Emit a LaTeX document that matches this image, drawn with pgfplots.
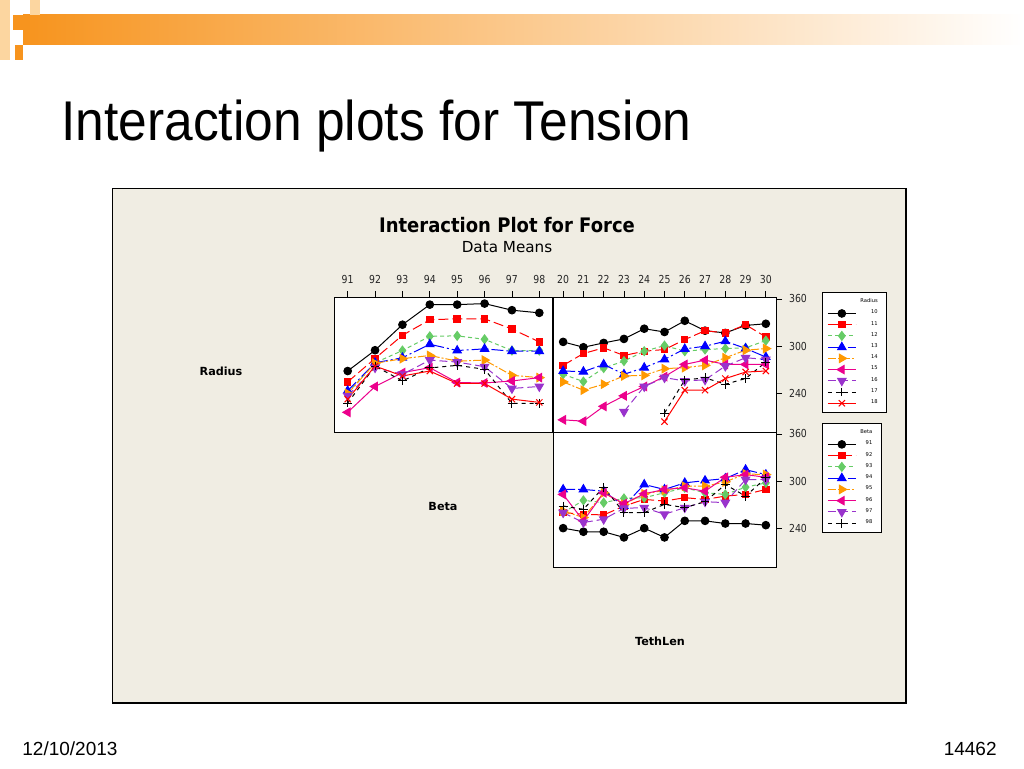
\documentclass[border=0pt]{standalone}
\usepackage{pgfplots}
\pgfplotsset{compat=1.18}
\usepackage{pgfplotstable}
\usepackage{fontspec}
\setmainfont{Liberation Sans}
\newfontfamily\chartfont{DejaVu Sans}
\newfontfamily\tickfont[FakeStretch=0.85]{DejaVu Sans}

\definecolor{mgreen}{RGB}{102,204,102}
\definecolor{morange}{RGB}{255,153,0}
\definecolor{mpurple}{RGB}{153,51,204}
\definecolor{mblue}{RGB}{0,0,255}
\definecolor{chartbg}{RGB}{240,237,227}
\definecolor{slideor}{RGB}{247,148,30}
\definecolor{slidepale}{RGB}{252,214,160}

\pgfplotsset{
  sA/.style={black, solid, mark=*, mark size=1.9pt},
  sB/.style={red, dash pattern=on 5pt off 2pt, mark=square*, mark size=1.6pt, mark options={solid}},
  sC/.style={mgreen, dash pattern=on 2pt off 1.5pt, mark=diamond*, mark size=2.2pt, mark options={solid}},
  sD/.style={mblue, dash pattern=on 6pt off 1.5pt on 1pt off 1.5pt, mark=triangle*, mark size=2.4pt, mark options={solid}},
  sE/.style={morange, dash pattern=on 4pt off 1pt on 1pt off 1pt, mark=triangle*, mark size=2.4pt, mark options={solid,rotate=-90}},
  sF/.style={magenta, solid, mark=triangle*, mark size=2.4pt, mark options={rotate=90}},
  sG/.style={mpurple, dash pattern=on 4pt off 2pt, mark=triangle*, mark size=2.4pt, mark options={solid,rotate=180}},
  sH/.style={black, dash pattern=on 2pt off 2pt, mark=+, mark size=2.2pt, mark options={solid}},
  sI/.style={red, solid, mark=x, mark size=2.2pt},
  panel/.style={
    scale only axis, height=67.5pt,
    ymin=190.5, ymax=362.5,
    axis background/.style={fill=white},
    tick align=outside, major tick length=3pt,
    tick style={black, line width=0.4pt},
    axis line style={line width=0.5pt},
    tick label style={font=\tickfont\fontsize{5.5}{6}\selectfont, text=black!85},
    /pgf/number format/assume math mode=true,
    unbounded coords=jump,
    every axis plot post/.append style={line width=0.5pt},
  },
  myleg/.style={
    legend image code/.code={\draw[mark repeat=2,mark phase=2,##1] plot coordinates {(0pt,0pt) (7pt,0pt) (14pt,0pt)};},
    legend cell align=right,
  },
  legbox/.style={anchor=north west, draw=black, fill=white,
    line width=0.4pt, inner xsep=2.5pt, inner ysep=1pt, row sep=-1.8pt,
    font=\chartfont\fontsize{2.6}{3}\selectfont,
    /tikz/every even column/.append style={column sep=3pt}},
}

% Radius x Beta
\pgfplotstableread{
x  r10   r11   r12   r13   r14   r15   r16   r17   r18
91 268.2 254.3 240.0 243.0 239.6 215.6 236.6 227.4 232.4
92 294.7 284.2 278.7 278.7 278.0 248.5 272.5 274.5 274.5
93 327.2 313.7 294.3 285.1 283.9 266.1 264.0 255.5 261.9
94 352.8 333.5 312.4 302.3 288.0 272.5 282.1 272.1 268.2
95 352.8 334.7 313.0 294.3 280.8 253.5 279.6 275.4 252.3
96 354.1 334.7 308.6 296.4 282.1 253.0 273.7 270.4 252.3
97 345.7 321.7 294.3 293.4 262.7 255.5 246.0 227.0 232.4
98 342.3 305.3 294.3 293.4 259.8 259.8 248.5 227.0 228.2
}\radbeta

% Radius x TethLen
\pgfplotstableread{
x  r10   r11   r12   r13   r14   r15   r16   r17   r18
20 305.3 275.4 264.0 268.2 254.3 206.0 nan   nan   nan
21 298.5 290.5 254.8 267.4 243.8 204.3 nan   nan   nan
22 304.0 297.7 272.0 276.6 251.4 223.2 nan   nan   nan
23 309.1 288.0 280.8 264.0 261.9 236.6 216.4 nan   nan
24 322.1 293.4 293.4 272.5 262.7 248.5 248.5 nan   nan
25 317.9 295.6 300.6 283.0 271.2 261.1 259.8 214.7 203.8
26 332.2 308.2 293.4 296.4 272.5 276.6 255.5 256.8 243.8
27 319.6 319.6 295.6 299.8 275.4 282.1 257.0 259.5 243.8
28 316.7 316.7 296.8 306.1 285.1 276.6 274.5 251.4 258.6
29 326.3 327.2 297.7 297.0 294.7 276.6 285.1 258.6 266.9
30 328.4 311.6 307.0 286.0 296.8 276.6 283.0 279.6 268.2
}\radteth

% Beta x TethLen
\pgfplotstableread{
x  b91   b92   b93   b94   b95   b96   b97   b98
20 240.0 259.8 259.8 289.3 261.9 283.0 259.8 268.2
21 235.4 257.7 275.4 289.3 253.5 249.3 247.2 264.0
22 235.4 256.8 272.5 287.1 285.1 285.1 251.4 292.2
23 228.2 268.2 277.9 268.2 270.3 271.2 265.3 259.8
24 240.0 276.6 278.8 295.6 283.8 283.8 266.1 259.8
25 228.2 274.5 285.1 289.3 288.0 289.3 257.7 270.3
26 249.3 278.8 291.4 297.7 293.4 291.4 266.1 266.1
27 249.3 276.6 285.1 300.6 293.4 287.1 273.7 273.7
28 245.9 280.8 283.0 303.2 299.0 304.8 272.5 295.6
29 245.9 283.0 292.2 314.5 309.1 308.2 301.9 280.8
30 243.8 289.3 297.7 308.2 308.2 304.8 301.9 304.0
}\betateth

\begin{document}
\begin{tikzpicture}
\fill[white] (0,0) rectangle (512pt,384pt);

\begin{scope}[shift={(0pt,384pt)}, x=0.5pt, y=-0.5pt]
  % slide decoration
  \shade[left color=slideor, right color=white] (23,15) rectangle (1024,45);
  \fill[slidepale] (0,0) rectangle (10,60);
  \fill[slideor] (13,15) rectangle (30,30);
  \fill[slidepale] (30,0) rectangle (40,15);
  \fill[slideor] (15,45) rectangle (23,60);
  % slide title and footer
  \node[anchor=base west, inner sep=0pt] at (61,140)
    {\scalebox{0.92}[1]{\fontsize{28}{32}\selectfont Interaction plots for Tension}};
  \node[anchor=base west, inner sep=0pt] at (22,755) {\fontsize{9.5}{11}\selectfont 12/10/2013};
  \node[anchor=base east, inner sep=0pt] at (997,755) {\fontsize{9.5}{11}\selectfont 14462};
  % chart frame
  \fill[chartbg] (112,188) rectangle (906,703);
  \draw[line width=0.5pt] (112,703) -- (112,188) -- (906,188);
  \draw[line width=1.2pt] (906,188) -- (906,703) -- (112,703);
  % chart titles
  \node at (507,225) {\scalebox{0.9}[1]{\chartfont\bfseries\fontsize{10}{12}\selectfont Interaction Plot for Force}};
  \node at (507,247) {\chartfont\fontsize{7.6}{9}\selectfont Data Means};
  \node at (221,371) {\chartfont\bfseries\fontsize{5.6}{7}\selectfont Radius};
  \node at (443,506) {\chartfont\bfseries\fontsize{5.6}{7}\selectfont Beta};
  \node at (660,641) {\chartfont\bfseries\fontsize{5.6}{7}\selectfont TethLen};
\end{scope}

% Radius rows, Beta columns
\begin{axis}[panel, at={(167pt,168pt)}, anchor=south west, width=109.5pt,
  xmin=90.5, xmax=98.5, xtick={91,...,98},
  xtick pos=upper, xticklabel pos=upper, ytick=\empty]
\addplot[sA] table[x=x,y=r10]{\radbeta};
\addplot[sB] table[x=x,y=r11]{\radbeta};
\addplot[sC] table[x=x,y=r12]{\radbeta};
\addplot[sD] table[x=x,y=r13]{\radbeta};
\addplot[sE] table[x=x,y=r14]{\radbeta};
\addplot[sF] table[x=x,y=r15]{\radbeta};
\addplot[sG] table[x=x,y=r16]{\radbeta};
\addplot[sH] table[x=x,y=r17]{\radbeta};
\addplot[sI] table[x=x,y=r18]{\radbeta};
\end{axis}

% Radius rows, TethLen columns
\begin{axis}[panel, myleg, at={(276.5pt,168pt)}, anchor=south west, width=111.5pt,
  xmin=19.5, xmax=30.5, xtick={20,...,30},
  xtick pos=upper, xticklabel pos=upper,
  ytick={240,300,360}, ytick pos=right, yticklabel pos=right,
  legend style={legbox, at={(1.206,1.035)}}]
\addlegendimage{empty legend}\addlegendentry{Radius}
\addplot[sA] table[x=x,y=r10]{\radteth}; \addlegendentry{10}
\addplot[sB] table[x=x,y=r11]{\radteth}; \addlegendentry{11}
\addplot[sC] table[x=x,y=r12]{\radteth}; \addlegendentry{12}
\addplot[sD] table[x=x,y=r13]{\radteth}; \addlegendentry{13}
\addplot[sE] table[x=x,y=r14]{\radteth}; \addlegendentry{14}
\addplot[sF] table[x=x,y=r15]{\radteth}; \addlegendentry{15}
\addplot[sG] table[x=x,y=r16]{\radteth}; \addlegendentry{16}
\addplot[sH] table[x=x,y=r17]{\radteth}; \addlegendentry{17}
\addplot[sI] table[x=x,y=r18]{\radteth}; \addlegendentry{18}
\end{axis}

% Beta rows, TethLen columns
\begin{axis}[panel, myleg, at={(276.5pt,100.5pt)}, anchor=south west, width=111.5pt,
  xmin=19.5, xmax=30.5, xtick=\empty,
  ytick={240,300,360}, ytick pos=right, yticklabel pos=right,
  legend style={legbox, at={(1.206,1.064)}}]
\addlegendimage{empty legend}\addlegendentry{Beta}
\addplot[sA] table[x=x,y=b91]{\betateth}; \addlegendentry{91}
\addplot[sB] table[x=x,y=b92]{\betateth}; \addlegendentry{92}
\addplot[sC] table[x=x,y=b93]{\betateth}; \addlegendentry{93}
\addplot[sD] table[x=x,y=b94]{\betateth}; \addlegendentry{94}
\addplot[sE] table[x=x,y=b95]{\betateth}; \addlegendentry{95}
\addplot[sF] table[x=x,y=b96]{\betateth}; \addlegendentry{96}
\addplot[sG] table[x=x,y=b97]{\betateth}; \addlegendentry{97}
\addplot[sH] table[x=x,y=b98]{\betateth}; \addlegendentry{98}
\end{axis}
\end{tikzpicture}
\end{document}
